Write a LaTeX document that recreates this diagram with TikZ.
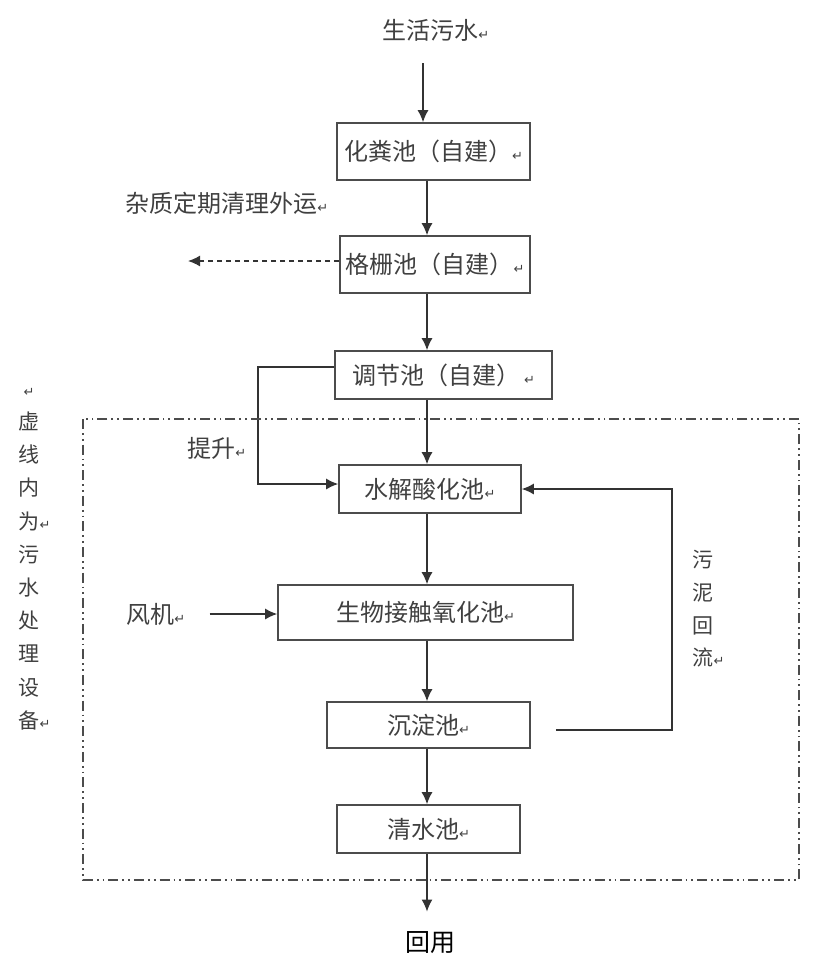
\documentclass[tikz,border=0pt]{standalone}
\usepackage{fontspec}
\usepackage{tikz}
\usetikzlibrary{arrows.meta}
\newfontfamily\cjk{Noto Sans CJK SC}
\newfontfamily\symb{DejaVu Sans}
\newcommand{\rmark}{{\symb\fontsize{6.5}{6.5}\selectfont ↵}}

\tikzset{
  pool/.style={draw=black!70, line width=0.8pt, inner sep=0pt, text=black!75,
    font=\cjk\fontsize{12}{12}\selectfont},
  note/.style={inner sep=0pt, text=black!75, font=\cjk\fontsize{12}{12}\selectfont},
  flow/.style={->, draw=black!80, line width=0.7pt},
  border/.style={draw=black!70, line width=1.3pt,
    dash pattern=on 5pt off 2pt on 0.9pt off 2pt on 0.9pt off 2pt},
}

\begin{document}
\begin{tikzpicture}[x=0.5pt, y=-0.5pt, >={Latex[length=6pt,width=5.5pt]}]
    \useasboundingbox (0,0) rectangle (827,955);

    % Draw the treatment units (main line)
    \node[pool, minimum width=96.5pt, minimum height=28.5pt] (septic) at (433.5,151.5) {化粪池（自建）\rmark};
    \node[pool, minimum width=95pt, minimum height=28.5pt] (screen) at (435,264.5) {格栅池（自建）\rmark};
    \node[pool, minimum width=108.5pt, minimum height=24pt] (adjust) at (443.5,375) {调节池（自建）\,\rmark};
    \node[pool, minimum width=91pt, minimum height=24pt] (hydro) at (430,489) {水解酸化池\rmark};
    \node[pool, minimum width=147.5pt, minimum height=27.5pt] (bio) at (425.5,612.5) {生物接触氧化池\rmark};
    \node[pool, minimum width=101.5pt, minimum height=23pt] (settle) at (428.5,725) {沉淀池\rmark};
    \node[pool, minimum width=91.5pt, minimum height=24pt] (clear) at (428.5,829) {清水池\rmark};

    % Texts beside the line
    \node[note, anchor=west] (sewage) at (382,30) {生活污水\rmark};
    \node[note, anchor=west] (waste) at (125,203) {杂质定期清理外运\rmark};
    \node[note, anchor=west] (lifttext) at (187,448) {提升\rmark};
    \node[note, anchor=west] (fan) at (126,614) {风机\rmark};
    \node[note, align=center, font=\cjk\fontsize{10.5}{16.35}\selectfont] (sludge) at (703,609) {污\\泥\\回\\流\rlap{\rmark}};
    \node[note, align=center, font=\cjk\fontsize{10.5}{16.6}\selectfont] (legend) at (29,559) {\rmark\\虚\\线\\内\\为\rlap{\rmark}\\污\\水\\处\\理\\设\\备\rlap{\rmark}};
    \node[inner sep=0pt, font=\cjk\fontsize{12.5}{12.5}\selectfont] (reuse) at (430,943) {回用};

    % Draw the flow arrows
    \coordinate (col) at (427,0);
    \coordinate (inlet) at (423,63);
    \draw[flow] (inlet) -- (inlet |- septic.north);
    \draw[flow] (septic.south -| col) -- (screen.north -| col);
    \draw[flow] (screen.south -| col) -- (adjust.north -| col);
    \draw[flow] (adjust.south -| col) -- (hydro.north -| col);
    \draw[flow] (hydro.south -| col) -- (bio.north -| col);
    \draw[flow] (bio.south -| col) -- (settle.north -| col);
    \draw[flow] (settle.south -| col) -- (clear.north -| col);
    \draw[flow, shorten >=10pt] (clear.south -| col) -- (reuse.north -| col);

    % Impurities carried away (dashed)
    \coordinate (out) at (188,261);
    \draw[flow, dash pattern=on 2.5pt off 2pt] (screen.west |- out) -- (out);

    % Lift from the regulating pool
    \coordinate (lift) at (258,0);
    \coordinate (hin) at ([yshift=2.5pt]hydro.west);
    \draw[flow] ([yshift=4pt]adjust.west) -| (lift |- hin) -- (hin);

    % Blower
    \draw[flow, shorten <=12pt] (fan.east) -- (fan.east -| bio.west);

    % Sludge return
    \coordinate (back) at (672,0);
    \draw[flow] ([xshift=12.5pt,yshift=-2.5pt]settle.east) -| (back |- hydro.east) -- (hydro.east);

    % Dash-dot frame of the treatment equipment
    \draw[border] (83,419) rectangle (799,880);

\end{tikzpicture}
\end{document}
